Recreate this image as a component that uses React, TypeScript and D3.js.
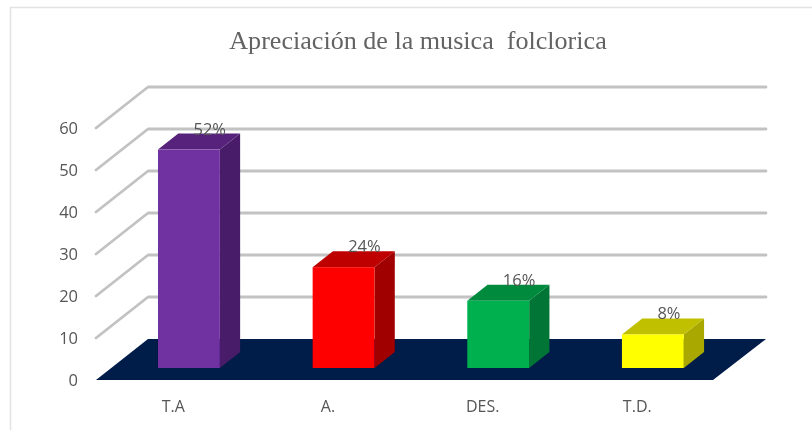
import React from "react";
import * as d3 from "d3";

const TITLE = "Apreciación de la musica\u00A0\u00A0folclorica";
const categories = ["T.A", "A.", "DES.", "T.D."];
const values = [52, 24, 16, 8];
const valueLabels = ["52%", "24%", "16%", "8%"];
const yTicks = [0, 10, 20, 30, 40, 50, 60];
const frontColors = ["#7030a0", "#ff0000", "#00b050", "#ffff00"];
const sideColors = ["#4a1f69", "#a00000", "#007434", "#a8a800"];
const topColors = ["#56237c", "#bf0000", "#008a3e", "#c0c000"];

const W = 812;
const H = 430;
const DX = 52;
const DY = 41;
const BAR_START = 0.3;
const BAR_DEPTH = 0.39;

const y = d3.scaleLinear().domain([0, 60]).range([380, 128]);
const x = d3.scaleBand<string>().domain(categories).range([96, 714.6]).paddingInner(0.6).paddingOuter(0.3);
const center = (c: string) => x(c)! + x.bandwidth() / 2;
const poly = (p: [number, number][]) => d3.line()(p) + "Z";

const textFont = "'Open Sans', sans-serif";
const textColor = "#565656";

export default function App() {
  return (
    <svg width={W} height={H} style={{ position: "absolute", left: 0, top: 0, background: "#fff" }}>
      <defs>
        <filter id="soft" x="0" y="0" width="100%" height="100%">
          <feGaussianBlur stdDeviation="0.45" />
        </filter>
      </defs>
      <g filter="url(#soft)">
        <rect x={0} y={0} width={W} height={H} fill="#fff" />
        <path d="M10.5,430V7.5H812" fill="none" stroke="#e2e2e2" strokeWidth={1.5} />
        <text x={418} y={49} textAnchor="middle" fontFamily="'Liberation Serif', serif" fontSize={26.1} fill="#636363">
          {TITLE}
        </text>
        {yTicks.map((t) => (
          <g key={t}>
            {t > 0 && (
              <path
                d={`M${96},${y(t)}L${96 + DX},${y(t) - DY}H766`}
                fill="none"
                stroke="#c2c2c2"
                strokeWidth={2.8}
                strokeLinecap="round"
                strokeLinejoin="round"
              />
            )}
            <text x={78} y={y(t) + 6} textAnchor="end" fontFamily={textFont} fontSize={16.5} fill={textColor}>
              {t}
            </text>
          </g>
        ))}
        <path
          d={poly([
            [96, y(0)],
            [96 + DX, y(0) - DY],
            [766, y(0) - DY],
            [713, y(0)],
          ])}
          fill="#001a4a"
        />
        {categories.map((c, i) => {
          const x0 = x(c)! + DX * BAR_START;
          const x1 = x0 + x.bandwidth();
          const yBase = y(0) - 12;
          const yTop = yBase - (y(0) - y(values[i]));
          const ox = DX * BAR_DEPTH;
          const oy = DY * BAR_DEPTH;
          return (
            <g key={c}>
              <path
                d={poly([
                  [x1, yTop],
                  [x1 + ox, yTop - oy],
                  [x1 + ox, yBase - oy],
                  [x1, yBase],
                ])}
                fill={sideColors[i]}
              />
              <path
                d={poly([
                  [x0, yTop],
                  [x0 + ox, yTop - oy],
                  [x1 + ox, yTop - oy],
                  [x1, yTop],
                ])}
                fill={topColors[i]}
              />
              <rect x={x0} y={yTop} width={x.bandwidth()} height={yBase - yTop} fill={frontColors[i]} />
              <text x={x0 + 35.5} y={yTop - 15} fontFamily={textFont} fontSize={16.5} fill={textColor}>
                {valueLabels[i]}
              </text>
              <text x={center(c)} y={412} textAnchor="middle" fontFamily={textFont} fontSize={16} fill={textColor}>
                {c}
              </text>
            </g>
          );
        })}
      </g>
    </svg>
  );
}
